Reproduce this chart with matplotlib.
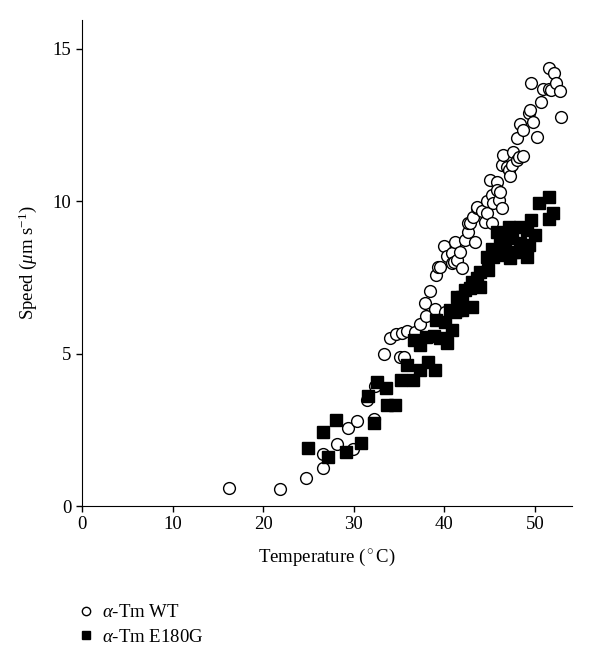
import matplotlib
matplotlib.use("Agg")
import matplotlib.pyplot as plt
from matplotlib.lines import Line2D

plt.rcParams['font.family'] = ['Liberation Serif', 'DejaVu Serif']
plt.rcParams['mathtext.fontset'] = 'custom'
plt.rcParams['mathtext.rm'] = 'Liberation Serif'
plt.rcParams['mathtext.it'] = 'Liberation Serif:italic'

# alpha-Tm WT (open circles)
wt_temp = [16.2, 21.8, 24.7, 26.6, 26.6, 28.1, 29.3, 29.9, 30.4, 31.4, 32.2, 32.3,
           33.3, 34.0, 34.6, 35.1, 35.3, 35.5, 35.9, 36.8, 37.3, 37.9, 38.0, 38.4,
           39.0, 39.1, 39.3, 39.5, 39.9, 40.1, 40.3, 40.8, 40.8, 41.0, 41.2, 41.4,
           41.7, 41.9, 42.3, 42.6, 42.6, 42.8, 43.2, 43.4, 43.6, 43.6, 44.1, 44.5,
           44.7, 44.7, 45.0, 45.2, 45.2, 45.4, 45.8, 45.8, 46.0, 46.1, 46.3, 46.3,
           46.5, 46.9, 47.1, 47.2, 47.4, 47.6, 48.0, 48.0, 48.2, 48.3, 48.7, 48.7,
           49.3, 49.4, 49.6, 49.8, 50.2, 50.6, 50.9, 51.5, 51.5, 51.8, 52.1, 52.3,
           52.8, 52.9]
wt_speed = [0.60, 0.56, 0.91, 1.24, 1.71, 2.02, 2.55, 1.87, 2.80, 3.48, 2.85, 3.95,
            5.00, 5.52, 5.63, 4.90, 5.69, 4.90, 5.74, 5.72, 5.97, 6.65, 6.25, 7.05,
            6.47, 7.58, 7.85, 7.85, 8.52, 6.38, 8.20, 8.29, 7.98, 8.02, 8.67, 8.07,
            8.35, 7.80, 8.73, 9.00, 9.28, 9.28, 9.49, 8.67, 9.77, 9.82, 9.68, 9.33,
            9.60, 10.02, 10.70, 10.21, 9.28, 9.93, 10.64, 10.37, 10.04, 10.32, 9.77, 11.19,
            11.52, 11.14, 11.03, 10.83, 11.19, 11.62, 12.08, 11.36, 11.46, 12.54, 12.34, 11.48,
            12.89, 13.00, 13.89, 12.61, 12.10, 13.27, 13.67, 14.36, 13.67, 13.65, 14.22, 13.87,
            13.63, 12.78]

# alpha-Tm E180G (filled squares)
mut_temp = [24.9, 26.6, 27.1, 28.0, 29.1, 30.8, 31.6, 32.2, 32.6, 33.6, 33.7, 34.5,
            35.2, 35.9, 36.5, 37.3, 38.2, 39.0, 36.6, 37.3, 38.0, 38.8, 39.5, 40.3,
            39.1, 40.1, 40.8, 41.2, 40.6, 41.4, 41.4, 41.9, 41.9, 42.3, 42.8, 43.0,
            43.0, 43.6, 43.9, 43.9, 44.7, 44.8, 45.2, 45.4, 45.8, 46.0, 46.1, 46.5,
            46.7, 47.1, 47.2, 47.4, 47.6, 48.3, 48.3, 48.5, 49.1, 49.1, 49.3, 49.6,
            50.0, 50.4, 51.5, 51.5, 52.0]
mut_speed = [1.91, 2.44, 1.62, 2.82, 1.76, 2.06, 3.62, 2.73, 4.06, 3.88, 3.31, 3.31,
             4.14, 4.63, 4.14, 4.46, 4.74, 4.46, 5.45, 5.28, 5.54, 5.58, 5.50, 5.36,
             6.10, 6.05, 5.78, 6.38, 6.43, 6.87, 6.43, 6.87, 6.43, 7.09, 7.15, 7.36,
             6.54, 7.47, 7.69, 7.18, 8.18, 7.75, 8.45, 8.18, 9.00, 8.40, 8.73, 8.24,
             8.40, 9.17, 8.13, 8.78, 8.35, 9.17, 8.62, 8.35, 9.06, 8.18, 8.56, 9.39,
             8.89, 9.95, 10.15, 9.41, 9.60]

x_ticks = [0, 10, 20, 30, 40, 50]
y_ticks = [0, 5, 10, 15]

fig = plt.figure(figsize=(6.0, 6.66), dpi=100)
ax = fig.add_axes([0.1367, 0.2402, 0.8163, 0.7298])

ax.plot(wt_temp, wt_speed, linestyle='none', marker='o', markersize=8.5,
        markerfacecolor='white', markeredgecolor='black', markeredgewidth=1.0, zorder=3)
ax.plot(mut_temp, mut_speed, linestyle='none', marker='s', markersize=8.0,
        markerfacecolor='black', markeredgecolor='black', zorder=4)

ax.set_xlim(0, 54.05)
ax.set_ylim(0, 15.95)
ax.set_xticks(x_ticks)
ax.set_yticks(y_ticks)
ax.spines['top'].set_visible(False)
ax.spines['right'].set_visible(False)
ax.tick_params(direction='out', length=4, width=1, labelsize=13.5)
ax.set_xlabel('Temperature ($^\\circ$C)', fontsize=13.5, labelpad=10)
ax.set_ylabel('Speed ($\\mathit{\\mu}$m s$^{-1}$)', fontsize=13.5, labelpad=10)

handles = [
    Line2D([], [], linestyle='none', marker='o', markersize=6,
           markerfacecolor='white', markeredgecolor='black'),
    Line2D([], [], linestyle='none', marker='s', markersize=6,
           markerfacecolor='black', markeredgecolor='black'),
]
labels = ['$\\mathit{\\alpha}$-Tm WT', '$\\mathit{\\alpha}$-Tm E180G']
fig.legend(handles, labels, loc='upper left', bbox_to_anchor=(0.115, 0.107),
           frameon=False, fontsize=13.5, handlelength=0.8, handletextpad=0.45,
           labelspacing=0.4, borderpad=0)

fig.savefig('out.png', dpi=100)
